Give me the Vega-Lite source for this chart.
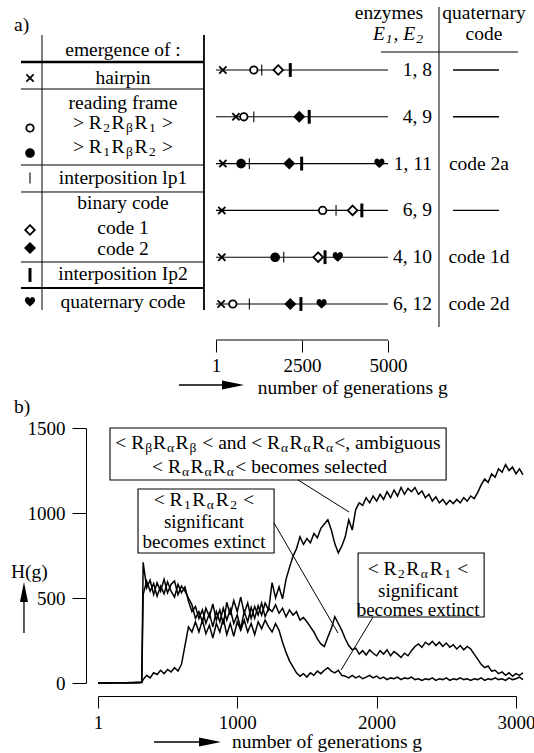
{
"$schema": "https://vega.github.io/schema/vega-lite/v6.json",
"background": "white",
"padding": {"left": 10, "top": 0, "right": 0, "bottom": 0},
"bounds": "flush",
"spacing": 88,
"config": {
  "font": "Liberation Serif",
  "view": {"stroke": null},
  "text": {"font": "Liberation Serif", "fontSize": 19.5, "color": "black"},
  "axis": {"labelFont": "Liberation Serif", "labelFontSize": 19, "labelColor": "black", "tickColor": "black", "domainColor": "black", "grid": false, "labelFlush": false, "labelOverlap": false}
},
"datasets": {
  "rows": [
    {"r":1,"enz":"1, 8","code":"—","g":1,"g2":5000},
    {"r":2,"enz":"4, 9","code":"—","g":1,"g2":5000},
    {"r":3,"enz":"1, 11","code":"code 2a","g":1,"g2":5000},
    {"r":4,"enz":"6, 9","code":"—","g":1,"g2":5000},
    {"r":5,"enz":"4, 10","code":"code 1d","g":1,"g2":5000},
    {"r":6,"enz":"6, 12","code":"code 2d","g":1,"g2":5000}
  ],
  "events": [
    {"r":1,"event":"hairpin","g":200},{"r":1,"event":"rf1","g":1100},{"r":1,"event":"lp1","g":1330},{"r":1,"event":"code1","g":1810},{"r":1,"event":"lp2","g":2160},
    {"r":2,"event":"hairpin","g":580},{"r":2,"event":"rf1","g":810},{"r":2,"event":"lp1","g":1100},{"r":2,"event":"code2","g":2420},{"r":2,"event":"lp2","g":2710},
    {"r":3,"event":"hairpin","g":200},{"r":3,"event":"rf2","g":730},{"r":3,"event":"lp1","g":970},{"r":3,"event":"code2","g":2130},{"r":3,"event":"lp2","g":2490},{"r":3,"event":"quat","g":4750},
    {"r":4,"event":"hairpin","g":170},{"r":4,"event":"rf1","g":3100},{"r":4,"event":"lp1","g":3490},{"r":4,"event":"code1","g":3970},{"r":4,"event":"lp2","g":4240},
    {"r":5,"event":"hairpin","g":170},{"r":5,"event":"rf2","g":1720},{"r":5,"event":"lp1","g":1970},{"r":5,"event":"code1","g":2970},{"r":5,"event":"lp2","g":3170},{"r":5,"event":"quat","g":3540},
    {"r":6,"event":"hairpin","g":150},{"r":6,"event":"rf1","g":490},{"r":6,"event":"lp1","g":970},{"r":6,"event":"code2","g":2160},{"r":6,"event":"lp2","g":2470},{"r":6,"event":"quat","g":3070}
  ],
  "series": [
{"s":"S","g":1,"H":0},{"s":"S","g":25,"H":1},{"s":"S","g":50,"H":0},{"s":"S","g":75,"H":1},{"s":"S","g":100,"H":0},{"s":"S","g":125,"H":2},{"s":"S","g":150,"H":1},{"s":"S","g":175,"H":0},{"s":"S","g":200,"H":2},{"s":"S","g":225,"H":1},{"s":"S","g":250,"H":3},{"s":"S","g":275,"H":2},{"s":"S","g":300,"H":4},{"s":"S","g":315,"H":3},
{"s":"S","g":325,"H":520},{"s":"S","g":350,"H":600},{"s":"S","g":375,"H":540},{"s":"S","g":400,"H":585},{"s":"S","g":425,"H":510},{"s":"S","g":450,"H":570},{"s":"S","g":475,"H":525},{"s":"S","g":500,"H":595},{"s":"S","g":525,"H":540},{"s":"S","g":550,"H":505},{"s":"S","g":575,"H":580},{"s":"S","g":600,"H":530},{"s":"S","g":625,"H":565},{"s":"S","g":650,"H":480},{"s":"S","g":675,"H":420},{"s":"S","g":700,"H":450},{"s":"S","g":725,"H":380},{"s":"S","g":750,"H":430},{"s":"S","g":775,"H":350},{"s":"S","g":800,"H":410},{"s":"S","g":825,"H":330},{"s":"S","g":850,"H":420},{"s":"S","g":875,"H":360},{"s":"S","g":900,"H":440},{"s":"S","g":925,"H":370},{"s":"S","g":950,"H":435},{"s":"S","g":975,"H":350},{"s":"S","g":1000,"H":400},{"s":"S","g":1025,"H":320},{"s":"S","g":1050,"H":420},{"s":"S","g":1075,"H":360},{"s":"S","g":1100,"H":445},{"s":"S","g":1125,"H":380},{"s":"S","g":1150,"H":455},{"s":"S","g":1175,"H":400},{"s":"S","g":1200,"H":470},{"s":"S","g":1225,"H":430},{"s":"S","g":1250,"H":590},{"s":"S","g":1275,"H":500},{"s":"S","g":1300,"H":565},{"s":"S","g":1325,"H":495},{"s":"S","g":1350,"H":610},{"s":"S","g":1375,"H":680},{"s":"S","g":1400,"H":745},{"s":"S","g":1425,"H":790},{"s":"S","g":1450,"H":860},{"s":"S","g":1475,"H":815},{"s":"S","g":1500,"H":850},{"s":"S","g":1525,"H":825},{"s":"S","g":1550,"H":880},{"s":"S","g":1575,"H":855},{"s":"S","g":1600,"H":910},{"s":"S","g":1625,"H":935},{"s":"S","g":1650,"H":960},{"s":"S","g":1675,"H":900},{"s":"S","g":1700,"H":820},{"s":"S","g":1725,"H":765},{"s":"S","g":1750,"H":805},{"s":"S","g":1775,"H":860},{"s":"S","g":1800,"H":960},{"s":"S","g":1825,"H":900},{"s":"S","g":1850,"H":1020},{"s":"S","g":1875,"H":1060},{"s":"S","g":1900,"H":1045},{"s":"S","g":1925,"H":1090},{"s":"S","g":1950,"H":1060},{"s":"S","g":1975,"H":1100},{"s":"S","g":2000,"H":1070},{"s":"S","g":2025,"H":1110},{"s":"S","g":2050,"H":1080},{"s":"S","g":2075,"H":1125},{"s":"S","g":2100,"H":1090},{"s":"S","g":2125,"H":1135},{"s":"S","g":2150,"H":1100},{"s":"S","g":2175,"H":1150},{"s":"S","g":2200,"H":1110},{"s":"S","g":2225,"H":1145},{"s":"S","g":2250,"H":1125},{"s":"S","g":2275,"H":1150},{"s":"S","g":2300,"H":1110},{"s":"S","g":2325,"H":1130},{"s":"S","g":2350,"H":1090},{"s":"S","g":2375,"H":1110},{"s":"S","g":2400,"H":1070},{"s":"S","g":2425,"H":1095},{"s":"S","g":2450,"H":1060},{"s":"S","g":2475,"H":1080},{"s":"S","g":2500,"H":1050},{"s":"S","g":2525,"H":1075},{"s":"S","g":2550,"H":1055},{"s":"S","g":2575,"H":1080},{"s":"S","g":2600,"H":1060},{"s":"S","g":2625,"H":1090},{"s":"S","g":2650,"H":1070},{"s":"S","g":2675,"H":1100},{"s":"S","g":2700,"H":1085},{"s":"S","g":2725,"H":1120},{"s":"S","g":2750,"H":1165},{"s":"S","g":2775,"H":1200},{"s":"S","g":2800,"H":1180},{"s":"S","g":2825,"H":1230},{"s":"S","g":2850,"H":1210},{"s":"S","g":2875,"H":1260},{"s":"S","g":2900,"H":1240},{"s":"S","g":2925,"H":1285},{"s":"S","g":2950,"H":1250},{"s":"S","g":2975,"H":1270},{"s":"S","g":3000,"H":1230},{"s":"S","g":3025,"H":1260},{"s":"S","g":3050,"H":1225},
{"s":"M","g":1,"H":0},{"s":"M","g":25,"H":0},{"s":"M","g":50,"H":1},{"s":"M","g":75,"H":0},{"s":"M","g":100,"H":2},{"s":"M","g":125,"H":1},{"s":"M","g":150,"H":0},{"s":"M","g":175,"H":2},{"s":"M","g":200,"H":1},{"s":"M","g":225,"H":3},{"s":"M","g":250,"H":2},{"s":"M","g":275,"H":4},{"s":"M","g":300,"H":3},{"s":"M","g":315,"H":5},
{"s":"M","g":325,"H":710},{"s":"M","g":350,"H":560},{"s":"M","g":375,"H":605},{"s":"M","g":400,"H":520},{"s":"M","g":425,"H":590},{"s":"M","g":450,"H":540},{"s":"M","g":475,"H":610},{"s":"M","g":500,"H":530},{"s":"M","g":525,"H":580},{"s":"M","g":550,"H":600},{"s":"M","g":575,"H":520},{"s":"M","g":600,"H":570},{"s":"M","g":625,"H":540},{"s":"M","g":650,"H":500},{"s":"M","g":675,"H":460},{"s":"M","g":700,"H":380},{"s":"M","g":725,"H":420},{"s":"M","g":750,"H":360},{"s":"M","g":775,"H":440},{"s":"M","g":800,"H":390},{"s":"M","g":825,"H":465},{"s":"M","g":850,"H":370},{"s":"M","g":875,"H":430},{"s":"M","g":900,"H":345},{"s":"M","g":925,"H":475},{"s":"M","g":950,"H":400},{"s":"M","g":975,"H":485},{"s":"M","g":1000,"H":420},{"s":"M","g":1025,"H":505},{"s":"M","g":1050,"H":410},{"s":"M","g":1075,"H":470},{"s":"M","g":1100,"H":380},{"s":"M","g":1125,"H":450},{"s":"M","g":1150,"H":400},{"s":"M","g":1175,"H":470},{"s":"M","g":1200,"H":390},{"s":"M","g":1225,"H":440},{"s":"M","g":1250,"H":420},{"s":"M","g":1275,"H":460},{"s":"M","g":1300,"H":410},{"s":"M","g":1325,"H":440},{"s":"M","g":1350,"H":390},{"s":"M","g":1375,"H":430},{"s":"M","g":1400,"H":400},{"s":"M","g":1425,"H":420},{"s":"M","g":1450,"H":370},{"s":"M","g":1475,"H":385},{"s":"M","g":1500,"H":360},{"s":"M","g":1525,"H":330},{"s":"M","g":1550,"H":300},{"s":"M","g":1575,"H":260},{"s":"M","g":1600,"H":230},{"s":"M","g":1625,"H":215},{"s":"M","g":1650,"H":270},{"s":"M","g":1675,"H":320},{"s":"M","g":1700,"H":390},{"s":"M","g":1725,"H":350},{"s":"M","g":1750,"H":310},{"s":"M","g":1775,"H":260},{"s":"M","g":1800,"H":220},{"s":"M","g":1825,"H":195},{"s":"M","g":1850,"H":205},{"s":"M","g":1875,"H":170},{"s":"M","g":1900,"H":190},{"s":"M","g":1925,"H":165},{"s":"M","g":1950,"H":195},{"s":"M","g":1975,"H":175},{"s":"M","g":2000,"H":160},{"s":"M","g":2025,"H":190},{"s":"M","g":2050,"H":170},{"s":"M","g":2075,"H":195},{"s":"M","g":2100,"H":160},{"s":"M","g":2125,"H":185},{"s":"M","g":2150,"H":170},{"s":"M","g":2175,"H":150},{"s":"M","g":2200,"H":175},{"s":"M","g":2225,"H":160},{"s":"M","g":2250,"H":190},{"s":"M","g":2275,"H":215},{"s":"M","g":2300,"H":230},{"s":"M","g":2325,"H":210},{"s":"M","g":2350,"H":240},{"s":"M","g":2375,"H":225},{"s":"M","g":2400,"H":245},{"s":"M","g":2425,"H":220},{"s":"M","g":2450,"H":240},{"s":"M","g":2475,"H":215},{"s":"M","g":2500,"H":235},{"s":"M","g":2525,"H":210},{"s":"M","g":2550,"H":225},{"s":"M","g":2575,"H":200},{"s":"M","g":2600,"H":220},{"s":"M","g":2625,"H":195},{"s":"M","g":2650,"H":215},{"s":"M","g":2675,"H":200},{"s":"M","g":2700,"H":170},{"s":"M","g":2725,"H":140},{"s":"M","g":2750,"H":110},{"s":"M","g":2775,"H":90},{"s":"M","g":2800,"H":100},{"s":"M","g":2825,"H":70},{"s":"M","g":2850,"H":75},{"s":"M","g":2875,"H":55},{"s":"M","g":2900,"H":65},{"s":"M","g":2925,"H":45},{"s":"M","g":2950,"H":60},{"s":"M","g":2975,"H":40},{"s":"M","g":3000,"H":55},{"s":"M","g":3025,"H":45},{"s":"M","g":3050,"H":60},
{"s":"B","g":1,"H":0},{"s":"B","g":25,"H":0},{"s":"B","g":50,"H":1},{"s":"B","g":75,"H":0},{"s":"B","g":100,"H":1},{"s":"B","g":125,"H":0},{"s":"B","g":150,"H":2},{"s":"B","g":175,"H":1},{"s":"B","g":200,"H":0},{"s":"B","g":225,"H":2},{"s":"B","g":250,"H":1},{"s":"B","g":275,"H":3},{"s":"B","g":300,"H":2},{"s":"B","g":315,"H":4},
{"s":"B","g":325,"H":20},{"s":"B","g":350,"H":45},{"s":"B","g":375,"H":30},{"s":"B","g":400,"H":60},{"s":"B","g":425,"H":50},{"s":"B","g":450,"H":75},{"s":"B","g":475,"H":55},{"s":"B","g":500,"H":80},{"s":"B","g":525,"H":65},{"s":"B","g":550,"H":90},{"s":"B","g":575,"H":70},{"s":"B","g":600,"H":110},{"s":"B","g":625,"H":220},{"s":"B","g":650,"H":330},{"s":"B","g":675,"H":300},{"s":"B","g":700,"H":360},{"s":"B","g":725,"H":300},{"s":"B","g":750,"H":370},{"s":"B","g":775,"H":290},{"s":"B","g":800,"H":340},{"s":"B","g":825,"H":265},{"s":"B","g":850,"H":350},{"s":"B","g":875,"H":300},{"s":"B","g":900,"H":380},{"s":"B","g":925,"H":285},{"s":"B","g":950,"H":350},{"s":"B","g":975,"H":275},{"s":"B","g":1000,"H":360},{"s":"B","g":1025,"H":310},{"s":"B","g":1050,"H":370},{"s":"B","g":1075,"H":300},{"s":"B","g":1100,"H":350},{"s":"B","g":1125,"H":285},{"s":"B","g":1150,"H":360},{"s":"B","g":1175,"H":320},{"s":"B","g":1200,"H":370},{"s":"B","g":1225,"H":330},{"s":"B","g":1250,"H":300},{"s":"B","g":1275,"H":350},{"s":"B","g":1300,"H":310},{"s":"B","g":1325,"H":240},{"s":"B","g":1350,"H":180},{"s":"B","g":1375,"H":130},{"s":"B","g":1400,"H":95},{"s":"B","g":1425,"H":60},{"s":"B","g":1450,"H":40},{"s":"B","g":1475,"H":55},{"s":"B","g":1500,"H":35},{"s":"B","g":1525,"H":60},{"s":"B","g":1550,"H":45},{"s":"B","g":1575,"H":70},{"s":"B","g":1600,"H":55},{"s":"B","g":1625,"H":75},{"s":"B","g":1650,"H":90},{"s":"B","g":1675,"H":70},{"s":"B","g":1700,"H":60},{"s":"B","g":1725,"H":75},{"s":"B","g":1750,"H":45},{"s":"B","g":1775,"H":40},{"s":"B","g":1800,"H":30},{"s":"B","g":1825,"H":45},{"s":"B","g":1850,"H":30},{"s":"B","g":1875,"H":40},{"s":"B","g":1900,"H":25},{"s":"B","g":1925,"H":35},{"s":"B","g":1950,"H":45},{"s":"B","g":1975,"H":30},{"s":"B","g":2000,"H":40},{"s":"B","g":2025,"H":25},{"s":"B","g":2050,"H":35},{"s":"B","g":2075,"H":20},{"s":"B","g":2100,"H":30},{"s":"B","g":2125,"H":25},{"s":"B","g":2150,"H":35},{"s":"B","g":2175,"H":20},{"s":"B","g":2200,"H":30},{"s":"B","g":2225,"H":25},{"s":"B","g":2250,"H":35},{"s":"B","g":2275,"H":20},{"s":"B","g":2300,"H":25},{"s":"B","g":2325,"H":15},{"s":"B","g":2350,"H":25},{"s":"B","g":2375,"H":20},{"s":"B","g":2400,"H":30},{"s":"B","g":2425,"H":15},{"s":"B","g":2450,"H":25},{"s":"B","g":2475,"H":20},{"s":"B","g":2500,"H":30},{"s":"B","g":2525,"H":15},{"s":"B","g":2550,"H":25},{"s":"B","g":2575,"H":20},{"s":"B","g":2600,"H":30},{"s":"B","g":2625,"H":20},{"s":"B","g":2650,"H":25},{"s":"B","g":2675,"H":15},{"s":"B","g":2700,"H":25},{"s":"B","g":2725,"H":20},{"s":"B","g":2750,"H":30},{"s":"B","g":2775,"H":15},{"s":"B","g":2800,"H":25},{"s":"B","g":2825,"H":20},{"s":"B","g":2850,"H":30},{"s":"B","g":2875,"H":20},{"s":"B","g":2900,"H":25},{"s":"B","g":2925,"H":15},{"s":"B","g":2950,"H":30},{"s":"B","g":2975,"H":20},{"s":"B","g":3000,"H":25},{"s":"B","g":3025,"H":35},{"s":"B","g":3050,"H":20}
  ]
},
"vconcat": [
{
  "width": 437, "height": 340,
  "encoding": {"y": {"field": "r", "type": "quantitative", "scale": {"domain": [-0.4957, 6.7692], "reverse": true, "nice": false, "zero": false}, "axis": null}},
  "layer": [
    {
      "encoding": {"x": {"field": "tx", "type": "quantitative", "scale": {"domain": [18.1648, 100], "nice": false, "zero": false}, "axis": null}},
      "layer": [
        {"data": {"values": [{"tx":3.745,"tx2":37.83,"r":0.8291,"r2":0.8291}]},
         "mark": {"type": "rule", "color": "black", "strokeWidth": 2.5},
         "encoding": {"x2": {"field": "tx2"}, "y2": {"field": "r2"}}},
        {"data": {"values": [{"tx":3.745,"tx2":38.01,"r":5.6581,"r2":5.6581},{"tx":38.01,"tx2":38.01,"r":0.2521,"r2":6.1282}]},
         "mark": {"type": "rule", "color": "black", "strokeWidth": 1.8},
         "encoding": {"x2": {"field": "tx2"}, "y2": {"field": "r2"}}},
        {"data": {"values": [
           {"tx":3.745,"tx2":38.01,"r":1.406,"r2":1.406},
           {"tx":3.745,"tx2":38.01,"r":3.0299,"r2":3.0299},
           {"tx":3.745,"tx2":38.01,"r":3.6068,"r2":3.6068},
           {"tx":3.745,"tx2":38.01,"r":5.1026,"r2":5.1026},
           {"tx":7.678,"tx2":7.678,"r":0.2521,"r2":6.1282},
           {"tx":82.02,"tx2":82.02,"r":-0.3462,"r2":6.4915},
           {"tx":71.16,"tx2":96.82,"r":0.6154,"r2":0.6154}]},
         "mark": {"type": "rule", "color": "black", "strokeWidth": 1},
         "encoding": {"x2": {"field": "tx2"}, "y2": {"field": "r2"}}},
        {"data": {"values": [
           {"tx":84.64,"tx2":93.26,"r":1,"r2":1},
           {"tx":84.64,"tx2":93.26,"r":2,"r2":2},
           {"tx":84.64,"tx2":93.26,"r":4,"r2":4}]},
         "mark": {"type": "rule", "color": "black", "strokeWidth": 1.4},
         "encoding": {"x2": {"field": "tx2"}, "y2": {"field": "r2"}}},
        {"data": {"values": [
           {"tx":22.846,"r":0.5726,"text":"emergence of :"},
           {"tx":22.846,"r":1.1709,"text":"hairpin"},
           {"tx":22.846,"r":1.7051,"text":"reading frame"},
           {"tx":22.846,"r":3.3077,"text":"interposition lp1"},
           {"tx":22.846,"r":3.8419,"text":"binary code"},
           {"tx":22.846,"r":4.3761,"text":"code 1"},
           {"tx":22.846,"r":4.8248,"text":"code 2"},
           {"tx":22.846,"r":5.359,"text":"interposition Ip2"},
           {"tx":22.846,"r":5.9573,"text":"quaternary code"},
           {"tx":90.45,"r":-0.2179,"text":"quaternary"},
           {"tx":90.45,"r":0.2308,"text":"code"},
           {"tx":89.51,"r":3,"text":"code 2a"},
           {"tx":89.51,"r":5,"text":"code 1d"},
           {"tx":89.51,"r":6,"text":"code 2d"}]},
         "mark": {"type": "text", "align": "center", "baseline": "middle", "font": "Liberation Serif"},
         "encoding": {"text": {"field": "text"}}},
        {"data": {"values": [
           {"tx":2.434,"r":0.0385,"text":"a)"},
           {"tx":48.07,"r":7.7842,"text":"number of generations  g"},
           {"tx":13.468,"r":2.1325,"text":"> R"},{"tx":20.702,"r":2.1325,"text":"R"},{"tx":24.989,"r":2.1325,"text":"R"},{"tx":30.163,"r":2.1325,"text":">"},
           {"tx":13.468,"r":2.6453,"text":"> R"},{"tx":20.702,"r":2.6453,"text":"R"},{"tx":24.989,"r":2.6453,"text":"R"},{"tx":30.163,"r":2.6453,"text":">"}]},
         "mark": {"type": "text", "align": "left", "baseline": "middle", "font": "Liberation Serif"},
         "encoding": {"text": {"field": "text"}}},
        {"data": {"values": [
           {"tx":19.157,"r":2.1325,"text":"2"},{"tx":23.419,"r":2.1325,"text":"β"},{"tx":27.706,"r":2.1325,"text":"1"},
           {"tx":19.157,"r":2.6453,"text":"1"},{"tx":23.419,"r":2.6453,"text":"β"},{"tx":27.706,"r":2.6453,"text":"2"}]},
         "mark": {"type": "text", "align": "left", "baseline": "middle", "fontSize": 13.5, "dy": 5, "font": "Liberation Serif"},
         "encoding": {"text": {"field": "text"}}},
        {"data": {"values": [{"tx":69.65,"r":0.2308,"text":"E"},{"tx":73.52,"r":0.2308,"text":", E"}]},
         "mark": {"type": "text", "align": "left", "baseline": "middle", "fontStyle": "italic", "font": "Liberation Serif"},
         "encoding": {"text": {"field": "text"}}},
        {"data": {"values": [{"tx":72.07,"r":0.2308,"text":"1"},{"tx":77.76,"r":0.2308,"text":"2"}]},
         "mark": {"type": "text", "align": "left", "baseline": "middle", "fontStyle": "italic", "fontSize": 13.5, "dy": 5, "font": "Liberation Serif"},
         "encoding": {"text": {"field": "text"}}},
        {"data": {"values": [
           {"tx":79.03,"r":-0.2179,"text":"enzymes"},
           {"tx":80.71,"r":1,"text":"1, 8"},
           {"tx":80.71,"r":2,"text":"4, 9"},
           {"tx":80.71,"r":3,"text":"1, 11"},
           {"tx":80.71,"r":4,"text":"6, 9"},
           {"tx":80.71,"r":5,"text":"4, 10"},
           {"tx":80.71,"r":6,"text":"6, 12"}]},
         "mark": {"type": "text", "align": "right", "baseline": "middle", "font": "Liberation Serif"},
         "encoding": {"text": {"field": "text"}}},
        {"data": {"values": [
           {"tx":5.43,"r":1.1709,"event":"hairpin"},{"tx":5.43,"r":2.2393,"event":"rf1"},{"tx":5.43,"r":2.7735,"event":"rf2"},{"tx":5.43,"r":3.3077,"event":"lp1"},
           {"tx":5.43,"r":4.4188,"event":"code1"},{"tx":5.43,"r":4.8034,"event":"code2"},{"tx":5.43,"r":5.3803,"event":"lp2"},{"tx":5.43,"r":5.9573,"event":"quat"}]},
         "mark": {"type": "point", "filled": true, "opacity": 1, "size": 144, "strokeWidth": 1.8},
         "encoding": {
           "shape": {"field": "event", "type": "nominal", "legend": null, "scale": {"domain": ["hairpin","rf1","rf2","lp1","code1","code2","lp2","quat"], "range": ["M-0.6,-0.6L0.6,0.6M-0.6,0.6L0.6,-0.6","M-0.62,0A0.62,0.62,0,1,0,0.62,0A0.62,0.62,0,1,0,-0.62,0Z","M-0.8,0A0.8,0.8,0,1,0,0.8,0A0.8,0.8,0,1,0,-0.8,0Z","M-0.09,-0.9L0.09,-0.9L0.09,0.9L-0.09,0.9Z","M0,-0.8L0.8,0L0,0.8L-0.8,0Z","M0,-1L1,0L0,1L-1,0Z","M-0.25,-1.15L0.25,-1.15L0.25,1.15L-0.25,1.15Z","M0,0.75C-0.25,0.5,-0.85,0.1,-0.85,-0.3C-0.85,-0.65,-0.6,-0.85,-0.38,-0.85C-0.17,-0.85,-0.04,-0.68,0,-0.5C0.04,-0.68,0.17,-0.85,0.38,-0.85C0.6,-0.85,0.85,-0.65,0.85,-0.3C0.85,0.1,0.25,0.5,0,0.75Z"]}},
           "fill": {"field": "event", "type": "nominal", "legend": null, "scale": {"domain": ["hairpin","rf1","rf2","lp1","code1","code2","lp2","quat"], "range": ["transparent","white","black","black","white","black","black","black"]}},
           "stroke": {"field": "event", "type": "nominal", "legend": null, "scale": {"domain": ["hairpin","rf1","rf2","lp1","code1","code2","lp2","quat"], "range": ["black","black","transparent","transparent","black","transparent","transparent","transparent"]}}
         }},
        {"data": {"values": [{"tx":33.33,"tx2":43.45,"r":7.7308}]},
         "mark": {"type": "rule", "color": "black", "strokeWidth": 1.3},
         "encoding": {"x2": {"field": "tx2"}}},
        {"data": {"values": [{"tx":43.45,"r":7.7308}]},
         "mark": {"type": "point", "shape": "M-1,-0.4L1,0L-1,0.4Z", "size": 484, "filled": true, "color": "black", "opacity": 1},
         "encoding": {}}
      ]
    },
    {
      "encoding": {"x": {"field": "g", "type": "quantitative", "scale": {"domain": [-3428.5, 9272.3], "nice": false, "zero": false},
        "axis": {"values": [1, 2500, 5000], "format": "d", "domain": false, "grid": false, "tickSize": 12, "tickWidth": 1, "labelPadding": 4, "labelFont": "Liberation Serif", "title": null}}},
      "layer": [
        {"data": {"name": "rows"},
         "mark": {"type": "rule", "color": "black", "strokeWidth": 1.1},
         "encoding": {"x2": {"field": "g2"}}},
        {"data": {"values": [{"g": 1, "g2": 5000}]},
         "mark": {"type": "rule", "color": "black", "strokeWidth": 1},
         "encoding": {"x2": {"field": "g2"}, "y": {"value": "height"}}},
        {"data": {"name": "events"},
         "mark": {"type": "point", "filled": true, "opacity": 1, "size": 144, "strokeWidth": 1.8},
         "encoding": {
           "shape": {"field": "event", "type": "nominal", "legend": null, "scale": {"domain": ["hairpin","rf1","rf2","lp1","code1","code2","lp2","quat"], "range": ["M-0.6,-0.6L0.6,0.6M-0.6,0.6L0.6,-0.6","M-0.62,0A0.62,0.62,0,1,0,0.62,0A0.62,0.62,0,1,0,-0.62,0Z","M-0.8,0A0.8,0.8,0,1,0,0.8,0A0.8,0.8,0,1,0,-0.8,0Z","M-0.09,-0.9L0.09,-0.9L0.09,0.9L-0.09,0.9Z","M0,-0.8L0.8,0L0,0.8L-0.8,0Z","M0,-1L1,0L0,1L-1,0Z","M-0.25,-1.15L0.25,-1.15L0.25,1.15L-0.25,1.15Z","M0,0.75C-0.25,0.5,-0.85,0.1,-0.85,-0.3C-0.85,-0.65,-0.6,-0.85,-0.38,-0.85C-0.17,-0.85,-0.04,-0.68,0,-0.5C0.04,-0.68,0.17,-0.85,0.38,-0.85C0.6,-0.85,0.85,-0.65,0.85,-0.3C0.85,0.1,0.25,0.5,0,0.75Z"]}},
           "fill": {"field": "event", "type": "nominal", "legend": null, "scale": {"domain": ["hairpin","rf1","rf2","lp1","code1","code2","lp2","quat"], "range": ["transparent","white","black","black","white","black","black","black"]}},
           "stroke": {"field": "event", "type": "nominal", "legend": null, "scale": {"domain": ["hairpin","rf1","rf2","lp1","code1","code2","lp2","quat"], "range": ["black","black","transparent","transparent","black","transparent","transparent","transparent"]}}
         }}
      ]
    }
  ],
  "resolve": {"scale": {"x": "independent"}}
},
{
  "width": 418, "height": 255,
  "encoding": {
    "x": {"field": "g", "type": "quantitative", "scale": {"domain": [1, 3000], "nice": false, "zero": false},
      "axis": {"values": [1, 1000, 2000, 3000], "format": "d", "offset": 13, "tickSize": 12, "labelPadding": 5, "domainWidth": 1, "labelFont": "Liberation Serif", "title": null}},
    "y": {"field": "H", "type": "quantitative", "scale": {"domain": [0, 1500], "nice": false, "zero": false},
      "axis": {"values": [0, 500, 1000, 1500], "format": "d", "offset": 12, "tickSize": 14, "labelPadding": 7, "domainWidth": 1, "labelFont": "Liberation Serif", "title": null}}
  },
  "layer": [
    {"data": {"name": "series"},
     "mark": {"type": "line", "color": "black", "strokeWidth": 1.5},
     "encoding": {"detail": {"field": "s", "type": "nominal"}}},
    {"data": {"values": [
       {"g":87.1,"g2":2498.6,"H":1500,"H2":1194.1},
       {"g":288.1,"g2":1264.2,"H":1141.2,"H2":764.7},
       {"g":1867,"g2":2771.3,"H":764.7,"H2":388.2}]},
     "mark": {"type": "rect", "fill": "white", "stroke": "black", "strokeWidth": 1.1},
     "encoding": {"x2": {"field": "g2"}, "y2": {"field": "H2"}}},
    {"data": {"values": [
       {"g":1436.4,"H":1194.1,"g2":1802.4,"H2":1005.9},
       {"g":1264.2,"H":941.2,"g2":1723,"H2":294},
       {"g":1974.7,"H":388.2,"g2":1745,"H2":76.5}]},
     "mark": {"type": "rule", "color": "black", "strokeWidth": 1},
     "encoding": {"x2": {"field": "g2"}, "y2": {"field": "H2"}}},
    {"data": {"values": [
       {"g":761.8,"H":947.1,"text":"significant"},
       {"g":761.8,"H":829.4,"text":"becomes extinct"},
       {"g":2297.6,"H":541.2,"text":"significant"},
       {"g":2297.6,"H":429.4,"text":"becomes extinct"}]},
     "mark": {"type": "text", "align": "center", "baseline": "middle", "fontSize": 19, "font": "Liberation Serif"},
     "encoding": {"text": {"field": "text"}}},
    {"data": {"values": [
       {"g":125.3,"H":1412,"text":"< R"},{"g":396.2,"H":1412,"text":"R"},{"g":557.2,"H":1412,"text":"R"},{"g":749.2,"H":1412,"text":"< and < R"},{"g":1374.9,"H":1412,"text":"R"},{"g":1535.9,"H":1412,"text":"R"},{"g":1696.9,"H":1412,"text":"<, ambiguous"},
       {"g":389.1,"H":1271,"text":"< R"},{"g":663.9,"H":1271,"text":"R"},{"g":824.9,"H":1271,"text":"R"},{"g":985.8,"H":1271,"text":"<  becomes selected"},
       {"g":400.3,"H":1076.5,"text":"< R"},{"g":677.4,"H":1076.5,"text":"R"},{"g":845.6,"H":1076.5,"text":"R"},{"g":1043.8,"H":1076.5,"text":"<"},
       {"g":1935.6,"H":670.6,"text":"< R"},{"g":2212.8,"H":670.6,"text":"R"},{"g":2381,"H":670.6,"text":"R"},{"g":2579.2,"H":670.6,"text":"<"},
       {"g":-601.9,"H":1623.5,"text":"b)"},
       {"g":-623.4,"H":652.9,"text":"H(g)"},
       {"g":962.7,"H":-347.1,"text":"number of generations  g"}]},
     "mark": {"type": "text", "align": "left", "baseline": "middle", "font": "Liberation Serif"},
     "encoding": {"text": {"field": "text"}}},
    {"data": {"values": [
       {"g":339.6,"H":1412,"text":"β"},{"g":496.7,"H":1412,"text":"α"},{"g":657.7,"H":1412,"text":"β"},{"g":1314.4,"H":1412,"text":"α"},{"g":1475.5,"H":1412,"text":"α"},{"g":1636.4,"H":1412,"text":"α"},
       {"g":603.5,"H":1271,"text":"α"},{"g":764.4,"H":1271,"text":"α"},{"g":925.4,"H":1271,"text":"α"},
       {"g":618.2,"H":1076.5,"text":"1"},{"g":781.5,"H":1076.5,"text":"α"},{"g":949.6,"H":1076.5,"text":"2"},
       {"g":2153.6,"H":670.6,"text":"2"},{"g":2316.9,"H":670.6,"text":"α"},{"g":2485,"H":670.6,"text":"1"}]},
     "mark": {"type": "text", "align": "left", "baseline": "middle", "fontSize": 13.5, "dy": 5, "font": "Liberation Serif"},
     "encoding": {"text": {"field": "text"}}},
    {"data": {"values": [
       {"g":402.9,"H":-347.1,"g2":804.8,"H2":-347.1},
       {"g":-530.1,"H":294.1,"g2":-530.1,"H2":535.3}]},
     "mark": {"type": "rule", "color": "black", "strokeWidth": 1.3},
     "encoding": {"x2": {"field": "g2"}, "y2": {"field": "H2"}}},
    {"data": {"values": [{"g":804.8,"H":-347.1}]},
     "mark": {"type": "point", "shape": "M-1,-0.4L1,0L-1,0.4Z", "size": 484, "filled": true, "color": "black", "opacity": 1},
     "encoding": {}},
    {"data": {"values": [{"g":-530.1,"H":535.3}]},
     "mark": {"type": "point", "shape": "M-0.4,1L0,-1L0.4,1Z", "size": 400, "filled": true, "color": "black", "opacity": 1},
     "encoding": {}}
  ]
}
]
}
